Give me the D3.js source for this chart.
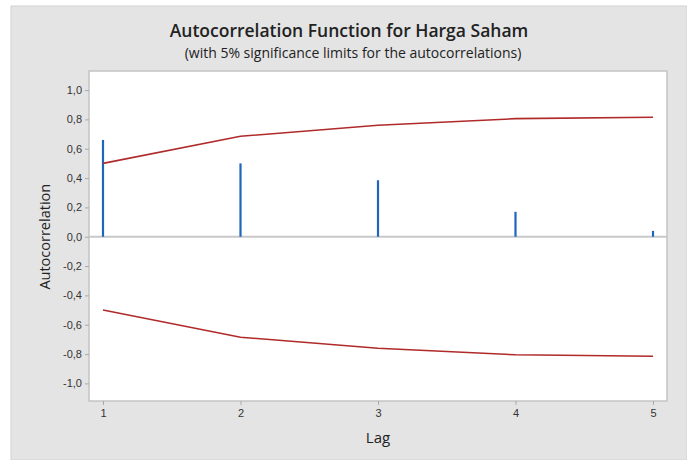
<!DOCTYPE html>
<html><head><meta charset="utf-8">
<script src="https://cdn.jsdelivr.net/npm/d3@7"></script>
<style>body{margin:0;background:#fff;}svg{display:block;font-family:"Open Sans","Noto Sans",sans-serif;}</style>
</head><body><svg id="c" width="687" height="460"></svg>
<script>
const lags = [1, 2, 3, 4, 5];
const acf = [0.66, 0.50, 0.385, 0.17, 0.04];
const upperLimit = [0.50, 0.685, 0.76, 0.805, 0.815];
const lowerLimit = [-0.50, -0.685, -0.76, -0.805, -0.815];
const yTicks = [-1.0, -0.8, -0.6, -0.4, -0.2, 0.0, 0.2, 0.4, 0.6, 0.8, 1.0];

const svg = d3.select("#c");
svg.append("rect").attr("x", 11).attr("y", 6).attr("width", 676).attr("height", 454)
  .attr("fill", "#e4e4e4").attr("stroke", "#d2d2d2").attr("stroke-width", 1);

const L = 89, R = 667, T = 71, B = 401;
const x = d3.scaleLinear().domain([1, 5]).range([103, 653]);
const y = d3.scaleLinear().domain([-1.12, 1.13]).range([B, T]);

svg.append("rect").attr("x", L).attr("y", T).attr("width", R - L).attr("height", B - T)
  .attr("fill", "#fff").attr("stroke", "#c4c4c4").attr("stroke-width", 1.5);

const fmt = d => d.toFixed(1).replace(".", ",");
const yAxis = svg.append("g").attr("transform", `translate(${L},0)`)
  .call(d3.axisLeft(y).tickValues(yTicks).tickFormat(fmt).tickSize(4).tickPadding(3));
const xAxis = svg.append("g").attr("transform", `translate(0,${B})`)
  .call(d3.axisBottom(x).tickValues(lags).tickFormat(d3.format("d")).tickSize(4).tickPadding(4));
[yAxis, xAxis].forEach(a => {
  a.select(".domain").remove();
  a.selectAll("line").attr("stroke", "#aaa");
  a.selectAll("text").attr("fill", "#333").style("font-size", "11px");
});

// zero reference line
svg.append("line").attr("x1", L).attr("x2", R).attr("y1", y(0)).attr("y2", y(0))
  .attr("stroke", "#c8c8c8").attr("stroke-width", 2);

// bars
svg.append("g").selectAll("line").data(lags).join("line")
  .attr("x1", d => x(d)).attr("x2", d => x(d))
  .attr("y1", y(0)).attr("y2", (d, i) => y(acf[i]))
  .attr("stroke", "#1f66b8").attr("stroke-width", 2.2);

// limits
const line = d3.line().x((d, i) => x(lags[i])).y(d => y(d));
[upperLimit, lowerLimit].forEach(arr => {
  svg.append("path").datum(arr).attr("d", line).attr("fill", "none")
    .attr("stroke", "#b02a2a").attr("stroke-width", 1.6);
});

svg.append("text").attr("x", 349).attr("y", 37).attr("text-anchor", "middle")
  .style("font-size", "17.5px").style("font-weight", 600).attr("fill", "#222")
  .text("Autocorrelation Function for Harga Saham");
svg.append("text").attr("x", 353).attr("y", 57.5).attr("text-anchor", "middle")
  .style("font-size", "14px").attr("fill", "#222")
  .text("(with 5% significance limits for the autocorrelations)");
svg.append("text").attr("transform", `translate(50,${y(0)}) rotate(-90)`)
  .attr("text-anchor", "middle").style("font-size", "14.5px").attr("fill", "#222")
  .text("Autocorrelation");
svg.append("text").attr("x", x(3)).attr("y", 443).attr("text-anchor", "middle")
  .style("font-size", "15px").attr("fill", "#222").text("Lag");
</script></body></html>
